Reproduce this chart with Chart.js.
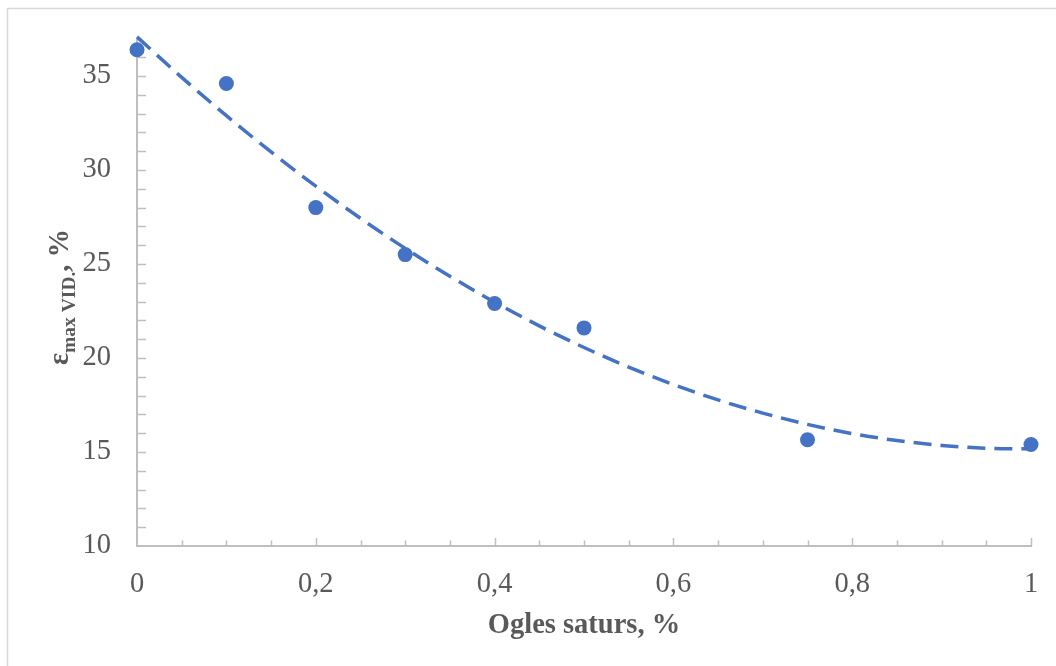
<!DOCTYPE html>
<html>
<head>
<meta charset="utf-8">
<script src="https://cdn.jsdelivr.net/npm/chart.js@4/dist/chart.umd.min.js"></script>
<style>
  html, body { margin: 0; padding: 0; background: #ffffff; }
  canvas { display: block; }
</style>
</head>
<body>
<canvas id="c" width="1056" height="666"></canvas>
<script>
// ---- data ----
const xValues = [0, 0.1, 0.2, 0.3, 0.4, 0.5, 0.75, 1];
const yValues = [36.4, 34.6, 28.0, 25.5, 22.9, 21.6, 15.65, 15.4];

// polynomial (2nd order) trendline as drawn in the reference
const trendX = [0, 0.05, 0.1, 0.15, 0.2, 0.25, 0.3, 0.35, 0.4, 0.45, 0.5, 0.55, 0.6, 0.65, 0.7, 0.75, 0.8, 0.85, 0.9, 0.95, 1];
const trendY = [37.08, 34.93, 32.89, 30.96, 29.14, 27.43, 25.83, 24.35, 22.97, 21.71, 20.56, 19.52, 18.59, 17.77, 17.07, 16.47, 15.98, 15.61, 15.35, 15.20, 15.16];

const xTickLabels = ['0', '0,2', '0,4', '0,6', '0,8', '1'];
const yTickLabels = ['10', '15', '20', '25', '30', '35'];

const xTitle = 'Ogles saturs, %';
const yTitleMain = 'ε';
const yTitleSub = 'max VID.';
const yTitleEnd = ', %';

const BLUE = '#4472C4';
const AXIS = '#BFBFBF';
const TEXT = '#595959';
const SERIF = '"Liberation Serif", "Times New Roman", serif';

const decor = {
  id: 'decor',
  beforeDraw(chart) {
    const c = chart.ctx;
    c.save();
    c.fillStyle = '#ffffff';
    c.fillRect(0, 0, chart.width, chart.height);
    c.strokeStyle = '#D9D9D9';
    c.lineWidth = 1.5;
    c.beginPath();
    c.moveTo(7.5, chart.height);
    c.lineTo(7.5, 8.5);
    c.lineTo(chart.width, 8.5);
    c.stroke();
    c.restore();
  },
  beforeDatasetsDraw(chart) {
    const c = chart.ctx;
    const xs = chart.scales.x, ys = chart.scales.y;
    const left = xs.getPixelForValue(0), right = xs.getPixelForValue(1);
    const bottom = ys.getPixelForValue(10), top = ys.getPixelForValue(37);
    c.save();
    c.strokeStyle = AXIS;
    c.lineWidth = 1.5;
    c.beginPath();
    for (let v = 11; v < 37; v++) {
      const py = Math.round(ys.getPixelForValue(v)) + 0.5;
      c.moveTo(left, py);
      c.lineTo(left + 9, py);
    }
    for (let i = 1; i <= 20; i++) {
      const v = i * 0.05;
      const px = Math.round(xs.getPixelForValue(v)) + 0.5;
      const len = (i % 4 === 0) ? 8 : 5.5;
      c.moveTo(px, bottom);
      c.lineTo(px, bottom - len);
    }
    c.stroke();
    c.lineWidth = 2;
    c.beginPath();
    c.moveTo(left, top);
    c.lineTo(left, bottom);
    c.lineTo(right + 1, bottom);
    c.stroke();
    c.restore();
  },
  afterDraw(chart) {
    const c = chart.ctx;
    const xs = chart.scales.x;
    c.save();
    c.fillStyle = TEXT;
    c.font = 'bold 28.5px ' + SERIF;
    c.textAlign = 'center';
    c.textBaseline = 'alphabetic';
    const cx = (xs.getPixelForValue(0) + xs.getPixelForValue(1)) / 2;
    c.fillText(xTitle, cx, 633);
    const mainFont = 'bold 28.5px ' + SERIF;
    const subFont = 'bold 19.5px ' + SERIF;
    c.font = mainFont; const w1 = c.measureText(yTitleMain).width;
    c.font = subFont; const w2 = c.measureText(yTitleSub).width;
    c.font = mainFont; const w3 = c.measureText(yTitleEnd).width;
    const total = w1 + w2 + w3;
    c.translate(68, 297);
    c.rotate(-Math.PI / 2);
    c.textAlign = 'left';
    let x0 = -total / 2;
    c.font = mainFont; c.fillText(yTitleMain, x0, 0); x0 += w1;
    c.font = subFont; c.fillText(yTitleSub, x0, 7); x0 += w2;
    c.font = mainFont; c.fillText(yTitleEnd, x0, 0);
    c.restore();
  }
};

new Chart(document.getElementById('c'), {
  type: 'scatter',
  data: {
    datasets: [
      {
        label: 'trend',
        data: trendX.map((x, i) => ({ x: x, y: trendY[i] })),
        showLine: true,
        borderColor: BLUE,
        borderWidth: 3.5,
        borderDash: [18, 9],
        borderCapStyle: 'butt',
        pointRadius: 0,
        pointHoverRadius: 0,
        cubicInterpolationMode: 'monotone',
        fill: false,
        clip: false,
        order: 1
      },
      {
        label: 'data',
        data: xValues.map((x, i) => ({ x: x, y: yValues[i] })),
        backgroundColor: BLUE,
        borderColor: BLUE,
        borderWidth: 0,
        pointRadius: 7.5,
        pointHoverRadius: 7.5,
        clip: false,
        order: 0
      }
    ]
  },
  options: {
    responsive: false,
    animation: false,
    devicePixelRatio: 1,
    layout: { padding: { left: 0, top: 38.4, right: 25, bottom: 0 } },
    plugins: { legend: { display: false }, tooltip: { enabled: false } },
    scales: {
      x: {
        type: 'linear',
        min: 0, max: 1,
        grid: { display: false, drawTicks: false },
        border: { display: false },
        ticks: {
          stepSize: 0.2,
          padding: 21,
          color: TEXT,
          font: { family: SERIF, size: 28.5 },
          callback: (v) => {
            const i = Math.round(v / 0.2);
            return xTickLabels[i] !== undefined ? xTickLabels[i] : '';
          }
        },
        afterFit: (s) => { s.height = 120; s.paddingLeft = 0; s.paddingRight = 0; }
      },
      y: {
        type: 'linear',
        min: 10, max: 37,
        grid: { display: false, drawTicks: false },
        border: { display: false },
        afterBuildTicks: (s) => { s.ticks = s.ticks.filter(t => Math.abs(t.value % 5) < 1e-9); },
        ticks: {
          stepSize: 5,
          padding: 26,
          color: TEXT,
          font: { family: SERIF, size: 28.5 },
          callback: (v) => {
            const i = Math.round((v - 10) / 5);
            return yTickLabels[i] !== undefined ? yTickLabels[i] : '';
          }
        },
        afterFit: (s) => { s.width = 137; s.paddingTop = 0; s.paddingBottom = 0; }
      }
    }
  },
  plugins: [decor]
});
</script>
</body>
</html>
